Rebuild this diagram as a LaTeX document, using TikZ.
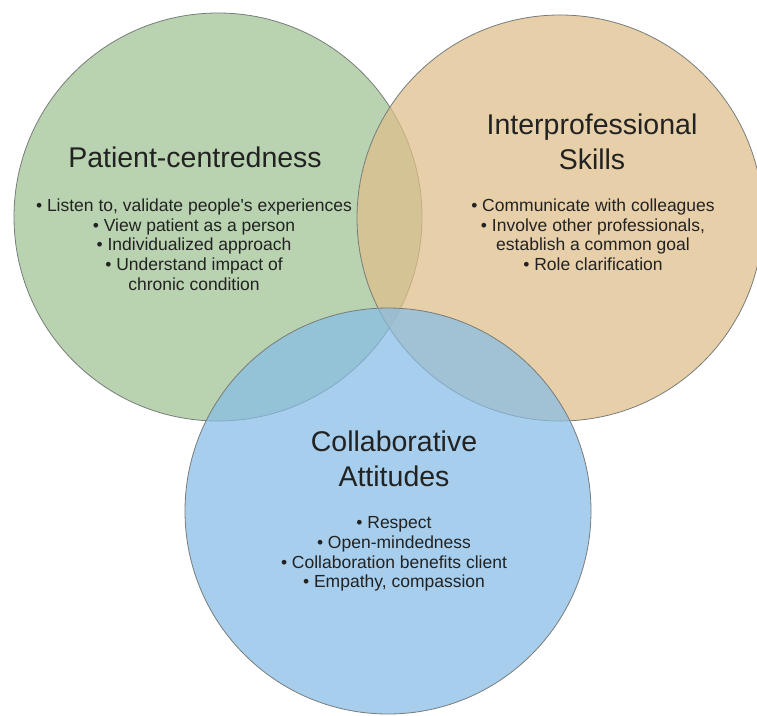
\documentclass[tikz,border=0pt]{standalone}
\usepackage{fontspec}
\setmainfont{Liberation Sans}[Ligatures=TeXOff]
\definecolor{sagegreen}{RGB}{158,195,147}
\definecolor{sandorange}{RGB}{223,190,137}
\definecolor{skyblue}{RGB}{134,188,229}
\definecolor{rimgray}{RGB}{120,124,122}
\definecolor{inkgray}{RGB}{34,34,34}
\begin{document}
\begin{tikzpicture}[x=1pt, y=-1pt,
    set/.style={draw=rimgray, line width=0.8pt, fill opacity=0.72},
    heading/.style={anchor=north, align=center, text=inkgray, font=\fontsize{28.5}{35.5}\selectfont},
    items/.style={anchor=north, align=center, text=inkgray, font=\fontsize{17.5}{19.8}\selectfont}]
    \useasboundingbox (0,0) rectangle (757,715);
    \fill[white] (0,0) rectangle (757,715);

    % the three sets
    \draw[set, fill=sagegreen] (218,217) circle[radius=204pt];
    \draw[set, fill=sandorange] (560,218) circle[radius=203pt];
    \draw[set, fill=skyblue] (388,511) circle[radius=203pt];

    % patient-centredness
    \node[heading] (patient) at (195,143) {Patient-centredness};
    \node[items] (patientlist) at (194,195) {\textbullet\ Listen to, validate people's experiences\\
        \textbullet\ View patient as a person\\
        \textbullet\ Individualized approach\\
        \textbullet\ Understand impact of\\
        chronic condition};

    % interprofessional skills
    \node[heading] (inter) at (592,110) {Interprofessional\\Skills};
    \node[items] (interlist) at (593,195) {\textbullet\ Communicate with colleagues\\
        \textbullet\ Involve other professionals,\\
        establish a common goal\\
        \textbullet\ Role clarification};

    % collaborative attitudes
    \node[heading] (collab) at (394,427) {Collaborative\\Attitudes};
    \node[items] (collablist) at (394,513) {\textbullet\ Respect\\
        \textbullet\ Open-mindedness\\
        \textbullet\ Collaboration benefits client\\
        \textbullet\ Empathy, compassion};
\end{tikzpicture}
\end{document}
